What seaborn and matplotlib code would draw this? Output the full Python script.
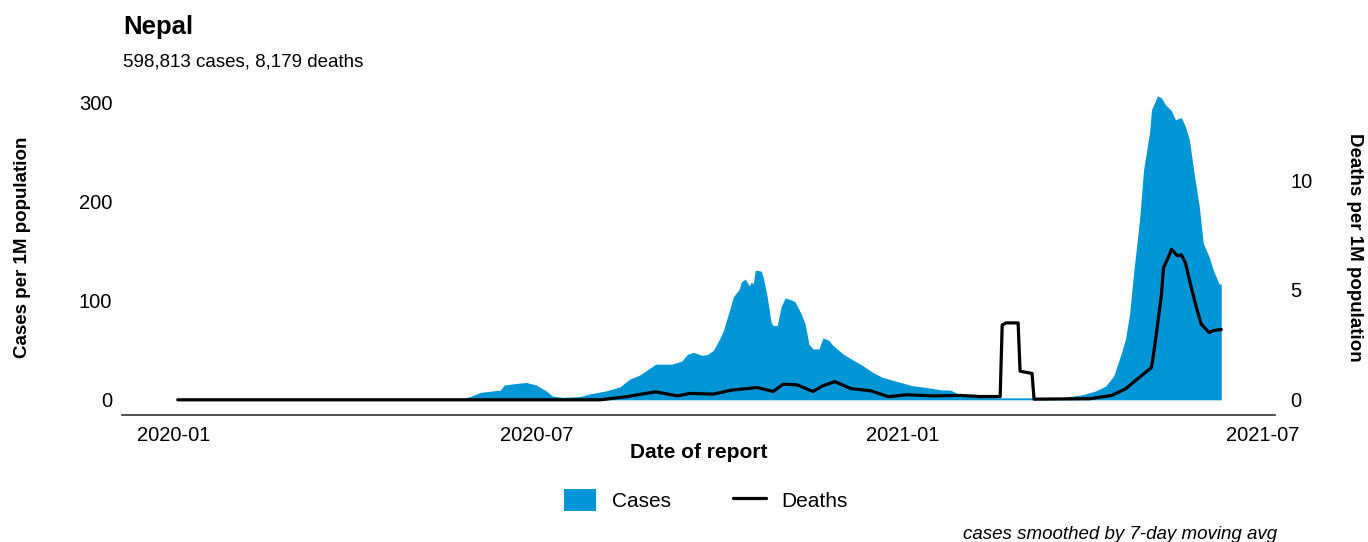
import matplotlib
matplotlib.use("Agg")
import matplotlib.pyplot as plt
import matplotlib.dates as mdates
from matplotlib.patches import Patch
from matplotlib.lines import Line2D
import pandas as pd
import seaborn as sns

# cases per 1M population (7-day avg)
case_dates = [
    "2020-01-03", "2020-05-19", "2020-05-25", "2020-05-29", "2020-06-03", "2020-06-08",
    "2020-06-13", "2020-06-15", "2020-06-21", "2020-06-26", "2020-07-01", "2020-07-06",
    "2020-07-09", "2020-07-14", "2020-07-23", "2020-07-28", "2020-08-05", "2020-08-12",
    "2020-08-17", "2020-08-22", "2020-08-30", "2020-09-07", "2020-09-12", "2020-09-15",
    "2020-09-18", "2020-09-22", "2020-09-25", "2020-09-28", "2020-10-01", "2020-10-03",
    "2020-10-06", "2020-10-08", "2020-10-11", "2020-10-12", "2020-10-14", "2020-10-16",
    "2020-10-17", "2020-10-18", "2020-10-19", "2020-10-22", "2020-10-23", "2020-10-25",
    "2020-10-27", "2020-10-28", "2020-10-30", "2020-11-01", "2020-11-03", "2020-11-06",
    "2020-11-08", "2020-11-11", "2020-11-13", "2020-11-15", "2020-11-17", "2020-11-20",
    "2020-11-22", "2020-11-25", "2020-11-27", "2020-12-02", "2020-12-07", "2020-12-12",
    "2020-12-17", "2020-12-22", "2020-12-29", "2021-01-06", "2021-01-13", "2021-01-20",
    "2021-01-25", "2021-01-31", "2021-02-09", "2021-02-20", "2021-03-22", "2021-03-26",
    "2021-04-01", "2021-04-08", "2021-04-13", "2021-04-17", "2021-04-21", "2021-04-23",
    "2021-04-25", "2021-04-27", "2021-04-30", "2021-05-02", "2021-05-05", "2021-05-06",
    "2021-05-09", "2021-05-11", "2021-05-13", "2021-05-16", "2021-05-18", "2021-05-21",
    "2021-05-23", "2021-05-25", "2021-05-27", "2021-05-30", "2021-06-01", "2021-06-04",
    "2021-06-06", "2021-06-09", "2021-06-10",
]
case_values = [
    0, 0, 1, 3.5, 7.5, 8.7,
    9.8, 15, 16.5, 17.5, 15, 9,
    4, 2.5, 3.3, 6, 9, 13,
    21, 25, 36, 36, 39, 46,
    48, 45, 45.7, 50, 61, 70,
    90, 104, 112, 119, 122, 115,
    119, 117, 131, 130, 124, 104,
    78, 75, 75, 94, 103, 101,
    99, 87, 77, 56, 51.5, 51.5,
    62.6, 60, 55, 46.4, 40.3, 34.5,
    27.7, 22.6, 18.6, 14.2, 12.5, 10,
    9.8, 4, 2.4, 2, 2, 3.4,
    5, 9, 14, 24, 48, 62,
    87, 128, 182, 232, 270, 293,
    307, 305, 298, 292, 283, 285,
    276, 263, 234, 195, 158, 144,
    131, 117, 117,
]

# deaths per 1M population
death_dates = [
    "2020-01-03", "2020-08-02", "2020-08-05", "2020-08-15", "2020-08-25", "2020-08-30",
    "2020-09-10", "2020-09-16", "2020-09-28", "2020-10-07", "2020-10-20", "2020-10-28",
    "2020-11-02", "2020-11-09", "2020-11-17", "2020-11-22", "2020-11-28", "2020-12-06",
    "2020-12-16", "2020-12-25", "2021-01-03", "2021-01-16", "2021-01-30", "2021-02-09",
    "2021-02-19", "2021-02-20", "2021-02-22", "2021-02-28", "2021-03-01", "2021-03-07",
    "2021-03-08", "2021-04-05", "2021-04-16", "2021-04-23", "2021-04-28", "2021-05-01",
    "2021-05-06", "2021-05-08", "2021-05-11", "2021-05-12", "2021-05-15", "2021-05-16",
    "2021-05-19", "2021-05-21", "2021-05-23", "2021-05-26", "2021-05-29", "2021-05-31",
    "2021-06-04", "2021-06-06", "2021-06-10",
]
death_values = [
    0, 0, 0.03, 0.14, 0.29, 0.36,
    0.18, 0.29, 0.26, 0.44, 0.56, 0.38,
    0.71, 0.68, 0.38, 0.64, 0.83, 0.51,
    0.41, 0.14, 0.23, 0.18, 0.2, 0.15,
    0.15, 3.4, 3.5, 3.5, 1.3, 1.2,
    0.03, 0.05, 0.2, 0.5, 0.88, 1.1,
    1.47, 2.7, 4.8, 6.0, 6.6, 6.85,
    6.55, 6.6, 6.24, 5.1, 4.05, 3.44,
    3.06, 3.15, 3.2,
]

case_ticks = [0, 100, 200, 300]
death_ticks = [0, 5, 10]
x_ticks = ["2020-01-01", "2020-07-01", "2021-01-01", "2021-07-01"]

BLUE = "#0096d6"
SCALE = 22.2  # cases units per death unit on the secondary axis

sns.set_theme(style="white")
plt.rcParams["font.family"] = ["Liberation Sans", "DejaVu Sans"]
plt.rcParams["text.color"] = "black"
plt.rcParams["axes.labelcolor"] = "black"

cases = pd.DataFrame({"date": pd.to_datetime(case_dates), "per_million": case_values})
deaths = pd.DataFrame({"date": pd.to_datetime(death_dates), "per_million": death_values})

fig = plt.figure(figsize=(13.68, 5.42), dpi=100)
ax = fig.add_axes([0.0892, 0.2343, 0.8428, 0.6162])
ax.fill_between(cases["date"], 0, cases["per_million"], color=BLUE, linewidth=0)

ax2 = ax.twinx()
sns.lineplot(data=deaths, x="date", y="per_million", ax=ax2, color="black", linewidth=2.3)

ylo, yhi = -15.35, 322
ax.set_ylim(ylo, yhi)
ax2.set_ylim(ylo / SCALE, yhi / SCALE)
ax.set_xlim(pd.Timestamp("2019-12-06"), pd.Timestamp("2021-07-07"))

ax.set_yticks(case_ticks)
ax2.set_yticks(death_ticks)
ax.set_xticks(pd.to_datetime(x_ticks))
ax.xaxis.set_major_formatter(mdates.DateFormatter("%Y-%m"))

for a in (ax, ax2):
    for s in a.spines.values():
        s.set_visible(False)
    a.grid(False)
ax.spines["bottom"].set_visible(True)
ax.spines["bottom"].set_color("#333333")
ax.spines["bottom"].set_linewidth(1.2)

ax.tick_params(axis="x", length=0, pad=8, labelsize=14.5, colors="black")
ax.tick_params(axis="y", length=0, pad=7, labelsize=14.5, colors="black")
ax2.tick_params(axis="y", length=0, pad=11, labelsize=14.5, colors="black")

ax.set_xlabel("Date of report", fontsize=15, fontweight="bold")
ax.xaxis.set_label_coords(0.5, -0.111)
ax.xaxis.label.set_va("center")
ax.set_ylabel("Cases per 1M population", fontsize=13.5, fontweight="bold")
ax.yaxis.set_label_coords(-0.0867, 0.503)
ax2.set_ylabel("Deaths per 1M population", fontsize=13.5, fontweight="bold", rotation=270)
ax2.yaxis.set_label_coords(1.069, 0.503)
ax2.yaxis.label.set_va("center")
ax.yaxis.label.set_va("center")

fig.text(0.0899, 0.950, "Nepal", fontsize=18.5, fontweight="bold", va="center", ha="left")
fig.text(0.0899, 0.8856, "598,813 cases, 8,179 deaths", fontsize=13.5, va="center", ha="left")
fig.text(0.9335, 0.013, "cases smoothed by 7-day moving avg", fontsize=13.5,
         style="italic", va="center", ha="right")

handles = [Patch(facecolor=BLUE, edgecolor="none", label="Cases"),
           Line2D([0], [0], color="black", lw=2.3, label="Deaths")]
fig.legend(handles=handles, loc="center", bbox_to_anchor=(0.516, 0.077), ncol=2,
           frameon=False, fontsize=15, handlelength=1.55, handleheight=1.2,
           handletextpad=0.75, columnspacing=3.0)

fig.savefig("out.png", dpi=100)
